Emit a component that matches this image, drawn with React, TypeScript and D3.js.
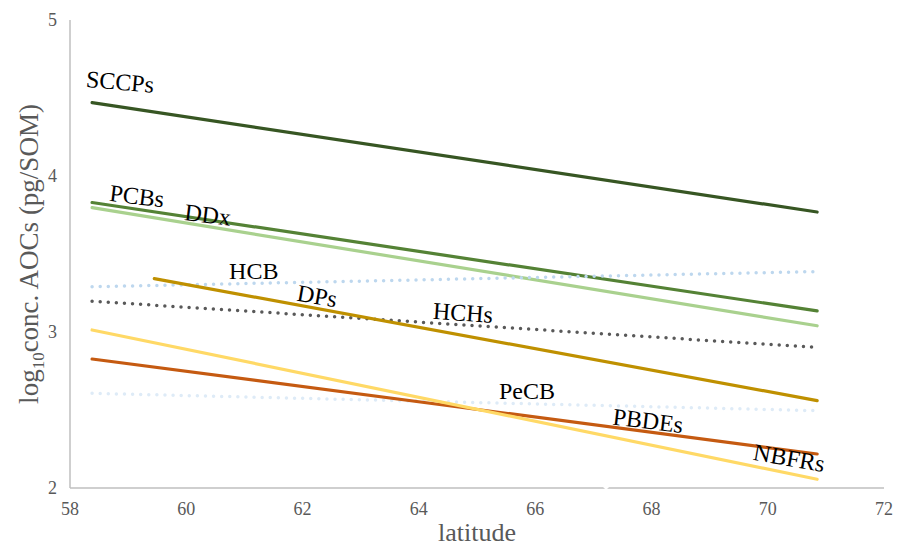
import React from "react";
import * as d3 from "d3";

// Fitted trend lines of log10 concentration against latitude
const seriesNames = ["SCCPs", "PCBs", "DDx", "HCB", "HCHs", "DPs", "PeCB", "PBDEs", "NBFRs"];
const latStart = [58.38, 58.38, 58.38, 58.38, 58.38, 59.45, 58.38, 58.38, 58.38];
const latEnd = [70.85, 70.85, 70.85, 70.8, 70.8, 70.85, 70.8, 70.85, 70.85];
const valueStart = [4.47, 3.83, 3.797, 3.29, 3.197, 3.342, 2.607, 2.827, 3.013];
const valueEnd = [3.769, 3.135, 3.04, 3.387, 2.902, 2.56, 2.496, 2.218, 2.056];
const seriesColors = ["#375623", "#548235", "#A9D18E", "#BDD7EE", "#595959", "#BF9000", "#DEEBF7", "#C55A11", "#FFD966"];
const seriesDotted = [false, false, false, true, true, false, true, false, false];

// Label placement: latitude along the line, pixel offset, rotation (deg)
const labelLat = [58.86, 59.15, 60.37, 61.16, 64.76, 62.25, 65.86, 67.94, 70.37];
const labelDy = [-25, -13, -11.5, -12, -12, -12.5, -13, -11, -15.5];
const labelAngle = [5, 7, 7, 0, 4, 10, 0, 7, 10];

const xTicks = [58, 60, 62, 64, 66, 68, 70, 72];
const yTicks = [2, 3, 4, 5];

const W = 898;
const H = 548;
const left = 70;
const right = 884;
const top = 20;
const bottom = 488;

export default function App() {
  const x = d3.scaleLinear().domain([58, 72]).range([left, right]);
  const y = d3.scaleLinear().domain([2, 5]).range([bottom, top]);
  const line = d3
    .line<[number, number]>()
    .x((d) => x(d[0]))
    .y((d) => y(d[1]));
  const font = "Liberation Serif, Times New Roman, serif";
  const axisColor = "#BFBFBF";
  const textColor = "#595959";

  const valueAt = (i: number, lat: number) =>
    valueStart[i] + ((valueEnd[i] - valueStart[i]) * (lat - latStart[i])) / (latEnd[i] - latStart[i]);

  const gapX = x(67.22);

  return (
    <svg width={W} height={H} style={{ position: "absolute", left: 0, top: 0, background: "#fff" }}>
      {/* axes */}
      <line x1={x(58)} x2={x(58)} y1={y(5)} y2={y(2)} stroke={axisColor} strokeWidth={1.5} />
      <line x1={x(58)} x2={x(72)} y1={y(2)} y2={y(2)} stroke={axisColor} strokeWidth={1.5} />
      <polygon
        points={`${gapX - 4},${y(2) - 2} ${gapX + 4},${y(2) - 2} ${gapX},${y(2) + 2}`}
        fill="#fff"
      />
      {xTicks.map((t) => (
        <text
          key={t}
          x={x(t)}
          y={y(2) + 27}
          textAnchor="middle"
          fontFamily={font}
          fontSize={18}
          fill={textColor}
        >
          {t}
        </text>
      ))}
      {yTicks.map((t) => (
        <text
          key={t}
          x={x(58) - 13}
          y={y(t) + 6}
          textAnchor="end"
          fontFamily={font}
          fontSize={18}
          fill={textColor}
        >
          {t}
        </text>
      ))}
      <text
        x={(x(58) + x(72)) / 2}
        y={H - 7}
        textAnchor="middle"
        fontFamily={font}
        fontSize={26}
        fill={textColor}
      >
        latitude
      </text>
      <text
        transform={`translate(38,${(y(2) + y(5)) / 2}) rotate(-90)`}
        textAnchor="middle"
        fontFamily={font}
        fontSize={27}
        fill={textColor}
      >
        log<tspan fontSize={17} dy={6}>10</tspan>
        <tspan dy={-6}>conc. AOCs (pg/SOM)</tspan>
      </text>

      {/* trend lines */}
      {seriesNames.map((name, i) => (
        <path
          key={name}
          d={
            line([
              [latStart[i], valueStart[i]],
              [latEnd[i], valueEnd[i]],
            ]) || ""
          }
          fill="none"
          stroke={seriesColors[i]}
          strokeWidth={seriesDotted[i] ? 3.5 : 3.2}
          strokeLinecap="round"
          strokeDasharray={seriesDotted[i] ? "0 8.1" : undefined}
        />
      ))}

      {/* series labels */}
      {seriesNames.map((name, i) => {
        const lx = x(labelLat[i]);
        const ly = y(valueAt(i, labelLat[i])) + labelDy[i];
        return (
          <text
            key={name}
            transform={`translate(${lx},${ly}) rotate(${labelAngle[i]})`}
            textAnchor="middle"
            dominantBaseline="central"
            fontFamily={font}
            fontSize={24}
            fill="#000"
          >
            {name}
          </text>
        );
      })}
    </svg>
  );
}
